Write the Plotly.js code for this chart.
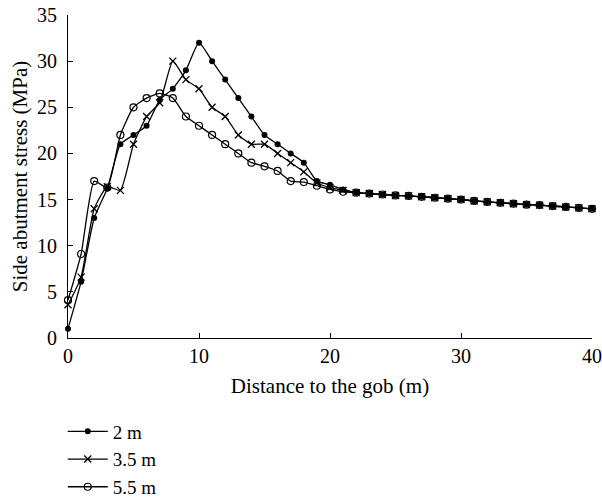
<!DOCTYPE html>
<html>
<head>
<meta charset="utf-8">
<script src="https://cdn.plot.ly/plotly-3.0.1.min.js"></script>
<style>html,body{margin:0;padding:0;background:#fff;}#chart{width:602px;height:500px;}</style>
</head>
<body>
<div id="chart"></div>
<script>
const distance = [0,1,2,3,4,5,6,7,8,9,10,11,12,13,14,15,16,17,18,19,20,21,22,23,24,25,26,27,28,29,30,31,32,33,34,35,36,37,38,39,40];
const tail = [15.75,15.65,15.55,15.45,15.4,15.3,15.2,15.1,15.0,14.85,14.75,14.65,14.55,14.45,14.4,14.3,14.2,14.1,14.0];
const stress2m  = [1,6.1,13,16.2,21,22,23,25.8,27,29,32,30,28,26,24,22,21,20,19,17,16.6,16.1].concat(tail);
const stress35m = [3.6,6.6,14,16.4,16,21,24,25.5,30,28,27,25,24,22,21,21,20,19,18,16.8,16.3,16.0].concat(tail);
const stress55m = [4.1,9.1,17,16.3,22,25,26,26.5,26,24,23,22,21,20,19,18.6,18.1,17,16.9,16.5,16.1,15.85].concat(tail);
const seriesNames = ["2 m","3.5 m","5.5 m"];

const fam = "'Liberation Serif', 'Times New Roman', serif";
const tickFont = {family: fam, size: 20, color: "#000"};
const titleFont = {family: fam, size: 21, color: "#000"};
const legendFont = {family: fam, size: 19, color: "#000"};
const lineStyle = {color: "#000", width: 1.3, shape: "spline", smoothing: 0.5};

const traces = [
  {x: distance, y: stress55m, name: seriesNames[2], legendrank: 3, mode: "lines+markers", cliponaxis: false,
   line: lineStyle, marker: {symbol: "circle-open", size: 7, color: "#000", line: {width: 1.2, color: "#000"}}},
  {x: distance, y: stress35m, name: seriesNames[1], legendrank: 2, mode: "lines+markers", cliponaxis: false,
   line: lineStyle, marker: {symbol: "x-thin-open", size: 7, color: "#000", line: {width: 1.3, color: "#000"}}},
  {x: distance, y: stress2m, name: seriesNames[0], legendrank: 1, mode: "lines+markers", cliponaxis: false,
   line: lineStyle, marker: {symbol: "circle", size: 6, color: "#000"}}
];

const layout = {
  width: 602, height: 500,
  margin: {l: 68, r: 10, t: 15, b: 162},
  paper_bgcolor: "#fff", plot_bgcolor: "#fff",
  font: tickFont,
  showlegend: true,
  legend: {xref: "paper", yref: "container", x: -0.01, y: 0.175, xanchor: "left", yanchor: "top", itemwidth: 40,
           font: legendFont, bgcolor: "rgba(0,0,0,0)", tracegroupgap: 0},
  xaxis: {
    range: [0, 40], tickvals: [0,10,20,30,40], ticks: "inside", ticklen: 5, tickcolor: "#000",
    showline: true, linecolor: "#000", linewidth: 1, showgrid: false, zeroline: false,
    title: {text: "Distance to the gob (m)", font: titleFont, standoff: 12},
    tickfont: tickFont
  },
  yaxis: {
    range: [0, 35], dtick: 5, ticks: "inside", ticklen: 5, tickcolor: "#000",
    showline: true, linecolor: "#000", linewidth: 1, showgrid: false, zeroline: false,
    title: {text: "Side abutment stress (MPa)", font: titleFont, standoff: 3},
    tickfont: tickFont, ticklabelstandoff: 6
  }
};

Plotly.newPlot("chart", traces, layout, {displayModeBar: false, staticPlot: true});
</script>
</body>
</html>
